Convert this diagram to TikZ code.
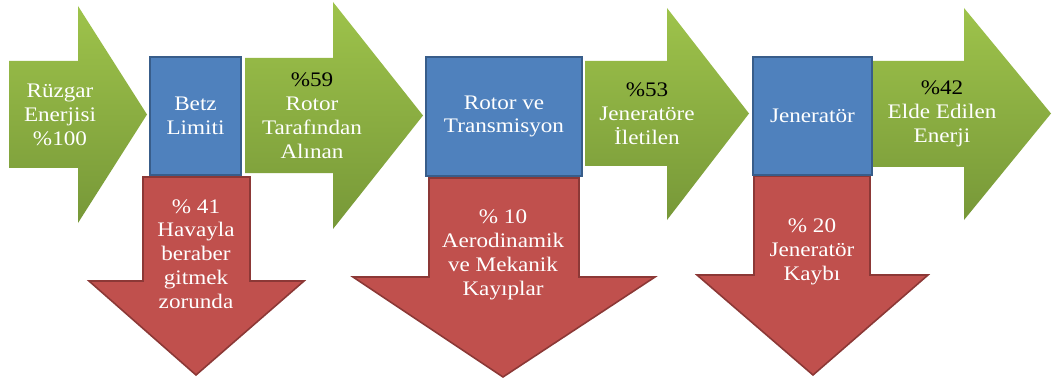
\documentclass[tikz,border=0pt]{standalone}
\usepackage{fontspec}
\setmainfont{Liberation Serif}[FakeStretch=1.12]
\usetikzlibrary{positioning}

\definecolor{greenTop}{HTML}{9EC34B}
\definecolor{greenBot}{HTML}{779838}
\definecolor{lossRed}{HTML}{C0504D}
\definecolor{lossEdge}{HTML}{8C3836}
\definecolor{stageBlue}{HTML}{4F81BD}
\definecolor{stageEdge}{HTML}{385D8A}

\begin{document}
\begin{tikzpicture}[
				x=0.75pt, y=-0.75pt,
				gain/.style={top color=greenTop, bottom color=greenBot, draw=none},
				loss/.style={fill=lossRed, draw=lossEdge, line width=1.2pt},
				stage/.style={rectangle, fill=stageBlue, draw=stageEdge, line width=1.2pt,
					inner sep=0pt},
				lbl/.style={align=center, text=white, font=\fontsize{15.5}{17.9}\selectfont},
				]
				\useasboundingbox (0,0) rectangle (1052,381);
				
				% green arrows
				\path[gain] (9,61) -- (78,61) -- (78,6) -- (147,114.5) -- (78,223) -- (78,168) -- (9,168) -- cycle;
				\path[gain] (245,58) -- (333,58) -- (333,2) -- (423,115.5) -- (333,229) -- (333,173) -- (245,173) -- cycle;
				\path[gain] (585,61) -- (667,61) -- (667,8) -- (749,113.5) -- (667,220) -- (667,166) -- (585,166) -- cycle;
				\path[gain] (873,61) -- (964,61) -- (964,8) -- (1051,113.5) -- (964,220) -- (964,167) -- (873,167) -- cycle;
				
				% red arrows
				\draw[loss] (143,177) -- (250,177) -- (250,281) -- (304,281) -- (196,375) -- (89,281) -- (143,281) -- cycle;
				\draw[loss] (429,178) -- (579,178) -- (579,277) -- (655,277) -- (503,377) -- (353,277) -- (429,277) -- cycle;
				\draw[loss] (754,176) -- (870,176) -- (870,275) -- (928,275) -- (813,375) -- (697,275) -- (754,275) -- cycle;
				
				% blue stages
				\node[stage, minimum width=68.25pt, minimum height=88.5pt] (betz) at (195.5,116) {};
				\node[stage, minimum width=117pt, minimum height=89.25pt] (rotor) at (504,116.5) {};
				\node[stage, minimum width=89.25pt, minimum height=88.5pt] (gen) at (812.5,116) {};
				
				\node[lbl] at (betz) {Betz\\Limiti};
				\node[lbl] at (rotor) {Rotor ve\\Transmisyon};
				\node[lbl] at (gen) {Jeneratör};
				
				% labels
				\node[lbl] (wind) at (60,115) {Rüzgar\\Enerjisi\\\%100};
				\node[lbl] (p59) at (312,116) {\textcolor{black}{\%59}\\Rotor\\Tarafından\\Alınan};
				\node[lbl] (p53) at (647,114) {\textcolor{black}{\%53}\\Jeneratöre\\İletilen};
				\node[lbl] (p42) at (942,114) {\textcolor{black}{\%42}\\Elde Edilen\\Enerji};
				
				\node[lbl] (l41) at (196,254) {\% 41\\Havayla\\beraber\\gitmek\\zorunda};
				\node[lbl] (l10) at (503,255) {\% 10\\Aerodinamik\\ve Mekanik\\Kayıplar};
				\node[lbl] (l20) at (812,252) {\% 20\\Jeneratör\\Kaybı};
		\end{tikzpicture}
\end{document}
